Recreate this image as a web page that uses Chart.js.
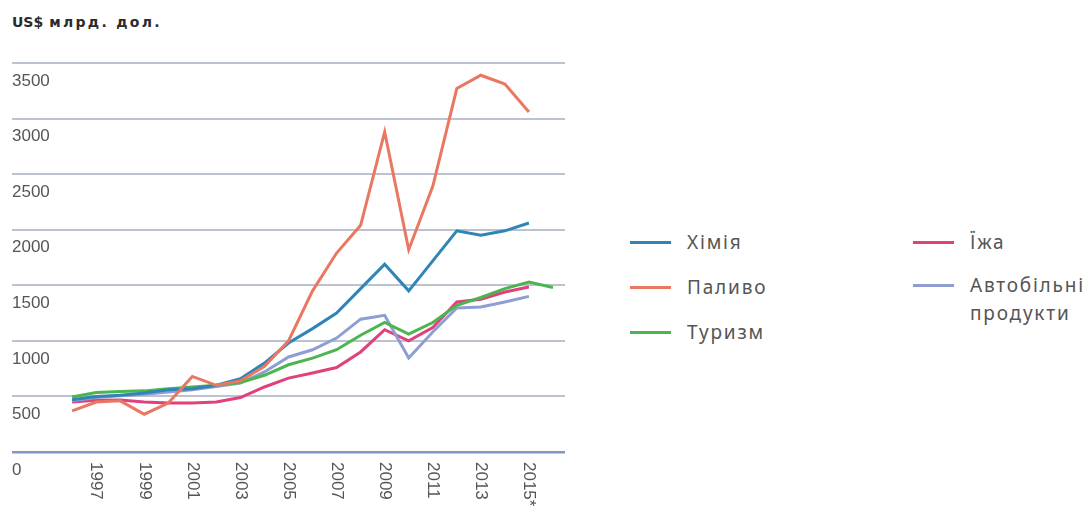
<!DOCTYPE html>
<html lang="uk">
<head>
<meta charset="utf-8">
<script src="https://cdn.jsdelivr.net/npm/chart.js@4/dist/chart.umd.min.js"></script>
<style>
  html, body { margin: 0; padding: 0; background: #ffffff; }
  body { width: 1084px; height: 506px; position: relative; overflow: hidden; font-family: "Noto Sans", "DejaVu Sans", sans-serif; }
  #wrap { position: absolute; left: 0; top: 0; width: 580px; height: 506px; }
  #title { position: absolute; left: 12px; top: 14px; font: bold 14px "DejaVu Sans", sans-serif; color: #2b2b2b; white-space: nowrap; }
  #title .ru { margin-left: 6px; letter-spacing: 2.3px; }
  .leg { position: absolute; display: flex; align-items: center; color: #555; font-size: 19px; letter-spacing: 1.8px; line-height: 28px; }
  .leg .sw { width: 41px; height: 3px; margin-right: 16px; flex: none; }
</style>
</head>
<body>
<div id="title"><span>US$</span><span class="ru">млрд. дол.</span></div>
<div id="wrap"><canvas id="c"></canvas></div>
<div id="legend"></div>
<script>
// ---- data ----
const years = [1996,1997,1998,1999,2000,2001,2002,2003,2004,2005,2006,2007,2008,2009,2010,2011,2012,2013,2014,2015,2016];
const seriesNames = ['Хімія', 'Паливо', 'Туризм', 'Їжа', 'Автобільні продукти'];
const chemistry = [470,500,510,530,560,570,600,660,800,980,1110,1250,1470,1690,1450,1720,1990,1950,1990,2060,null];
const fuel      = [370,450,460,340,440,680,600,640,770,1000,1450,1790,2040,2880,1820,2390,3270,3390,3310,3060,null];
const tourism   = [495,535,545,550,570,585,600,625,690,785,845,920,1050,1165,1060,1165,1320,1390,1470,1530,1480];
const food      = [450,465,468,450,440,440,450,490,585,665,710,760,900,1100,1000,1120,1350,1375,1440,1485,null];
const auto      = [460,490,505,520,540,560,590,620,720,855,920,1025,1195,1230,846,1080,1296,1305,1350,1400,null];
const xTickYears  = [1997,1999,2001,2003,2005,2007,2009,2011,2013,2015];
const xTickLabels = ['1997','1999','2001','2003','2005','2007','2009','2011','2013','2015*'];
const yTicks = [0,500,1000,1500,2000,2500,3000,3500];

const colors = ['#2f86b6', '#ea7761', '#4cb54f', '#e0407c', '#8e9dd2'];
const values = [chemistry, fuel, tourism, food, auto];

const datasets = seriesNames.map((name, i) => ({
  label: name,
  data: years.map((y, k) => ({ x: y, y: values[i][k] })),
  borderColor: colors[i],
  backgroundColor: colors[i],
  borderWidth: 3,
  pointRadius: 0,
  tension: 0,
  spanGaps: false
}));
const order = { 'Хімія': 2, 'Паливо': 1, 'Туризм': 3, 'Їжа': 5, 'Автобільні продукти': 4 };
datasets.forEach(d => d.order = order[d.label]);

const xLabelPlugin = {
  id: 'xLabels',
  afterDraw(chart) {
    const sx = chart.scales.x;
    const ctx = chart.ctx;
    ctx.save();
    ctx.font = '17px "Liberation Sans", sans-serif';
    ctx.fillStyle = '#555';
    ctx.textAlign = 'left';
    ctx.textBaseline = 'middle';
    xTickYears.forEach((yr, i) => {
      const px = sx.getPixelForValue(yr);
      ctx.save();
      ctx.translate(px, chart.chartArea.bottom + 10);
      ctx.rotate(Math.PI / 2);
      ctx.fillText(xTickLabels[i], 0, 0);
      ctx.restore();
    });
    ctx.restore();
  }
};

new Chart(document.getElementById('c'), {
  type: 'line',
  data: { datasets },
  options: {
    responsive: true,
    maintainAspectRatio: false,
    animation: false,
    layout: { padding: { left: 12, right: 15, top: 63, bottom: 54 } },
    plugins: { legend: { display: false }, tooltip: { enabled: false } },
    scales: {
      x: {
        type: 'linear',
        min: 1993.5,
        max: 2016.5,
        ticks: { display: false },
        grid: { display: false, drawTicks: false },
        border: { display: false }
      },
      y: {
        min: 0,
        max: 3500,
        afterBuildTicks: (s) => { s.ticks = yTicks.map(v => ({ value: v })); },
        ticks: {
          mirror: true,
          padding: 0,
          labelOffset: 18,
          color: '#555',
          font: { family: '"Liberation Sans", sans-serif', size: 17 },
          callback: (v) => String(v)
        },
        grid: {
          drawTicks: false,
          color: (c) => (c.tick && c.tick.value === 0) ? '#7f98c6' : '#bcc2cf',
          lineWidth: (c) => (c.tick && c.tick.value === 0) ? 2.5 : 2
        },
        border: { display: false }
      }
    }
  },
  plugins: [xLabelPlugin]
});

// ---- HTML legend ----
const legendPos = [
  { left: 630, top: 242 },
  { left: 630, top: 287 },
  { left: 630, top: 332 },
  { left: 913, top: 242 },
  { left: 913, top: 285 }
];
const legendText = ['Хімія', 'Паливо', 'Туризм', 'Їжа', 'Автобільні<br>продукти'];
const lg = document.getElementById('legend');
seriesNames.forEach((n, i) => {
  const d = document.createElement('div');
  d.className = 'leg';
  d.style.left = legendPos[i].left + 'px';
  d.style.top = (legendPos[i].top - 14) + 'px';
  if (i === 4) { d.style.alignItems = 'flex-start'; }
  const sw = document.createElement('span');
  sw.className = 'sw';
  sw.style.background = colors[i];
  if (i === 4) sw.style.marginTop = '13px';
  const t = document.createElement('span');
  t.innerHTML = legendText[i];
  d.appendChild(sw); d.appendChild(t);
  lg.appendChild(d);
});
</script>
</body>
</html>
